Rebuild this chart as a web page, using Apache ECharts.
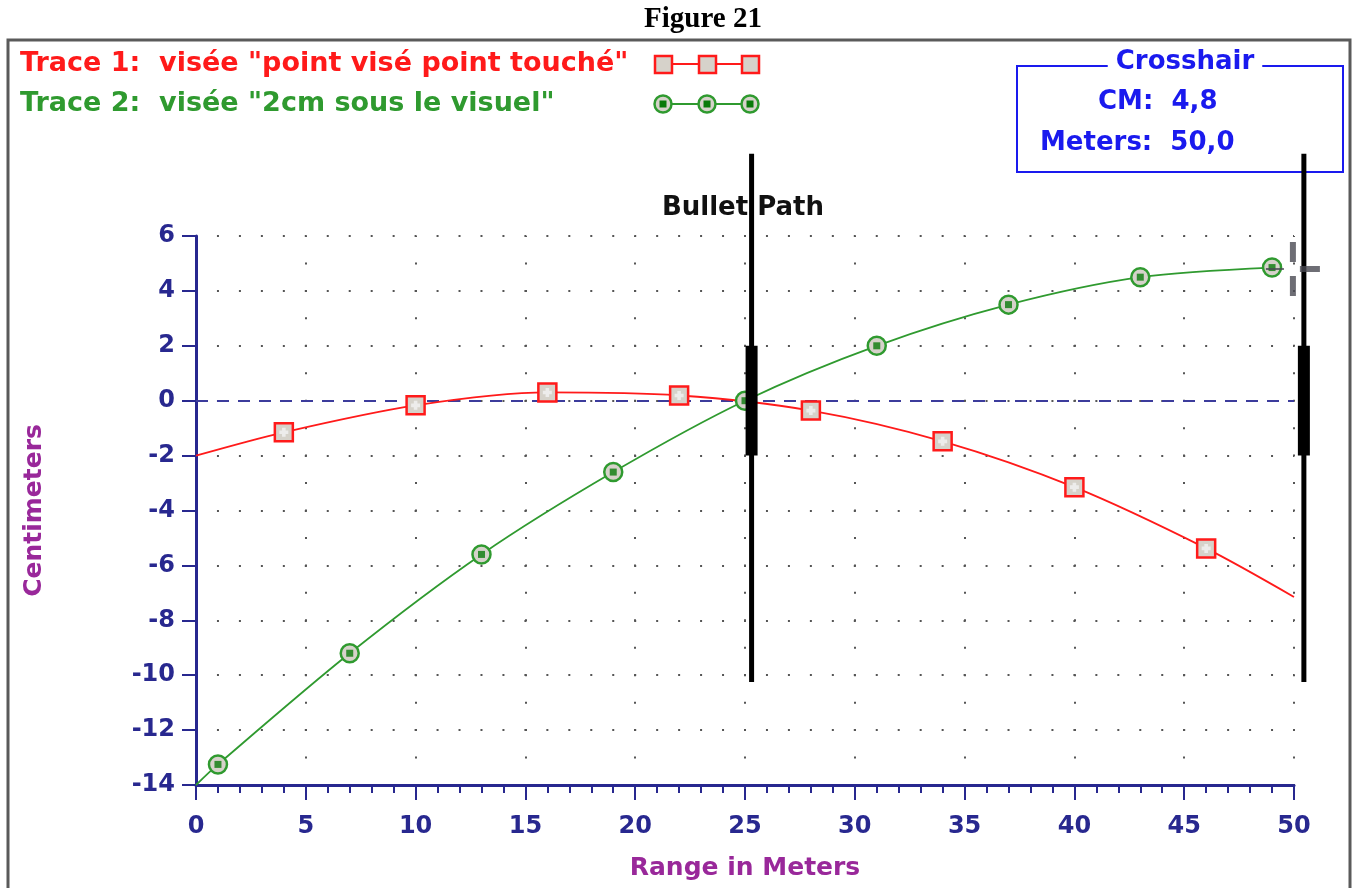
<!DOCTYPE html>
<html>
<head>
<meta charset="utf-8">
<script src="https://cdn.jsdelivr.net/npm/echarts@6/dist/echarts.min.js"></script>
<style>
html,body{margin:0;padding:0;background:#fff;}
#chart{width:1354px;height:888px;}
</style>
</head>
<body>
<div id="chart"></div>
<script>
// ---- data ----
const trace1Range = [0, 4, 10, 16, 22, 28, 34, 40, 46, 50];
const trace1Cm    = [-2.0, -1.15, -0.17, 0.3, 0.19, -0.36, -1.48, -3.15, -5.38, -7.15];
const trace2Range = [0, 1, 7, 13, 19, 25, 31, 37, 43, 49];
const trace2Cm    = [-14.0, -13.25, -9.2, -5.6, -2.6, 0.0, 2.0, 3.5, 4.5, 4.85];
const sightRange  = [25.3, 50.45];
const sightSpan   = [9.0, -10.25];
const sightCore   = [2.0, -2.0];
const cursorPoint = [49.95, 4.8];
const xTicks = [0, 5, 10, 15, 20, 25, 30, 35, 40, 45, 50];
const yTicks = [-14, -12, -10, -8, -6, -4, -2, 0, 2, 4, 6];
const legend1 = 'Trace 1:  visée "point visé point touché"';
const legend2 = 'Trace 2:  visée "2cm sous le visuel"';
const crossCm = '4,8';
const crossMeters = '50,0';

const FONT = 'DejaVu Sans';
const NAVY = '#28288f';
const PURPLE = '#99289a';
const RED = '#ff1a1a';
const GREEN = '#2f9a2f';
const BLUE = '#1a1aee';
const GRAYFILL = '#d6d2ca';

const chart = echarts.init(document.getElementById('chart'), null, {renderer: 'canvas'});

function endsNone(xs, ys, first, last) {
  return xs.map((x, i) => {
    const item = {value: [x, ys[i]]};
    if ((first && i === 0) || (last && i === xs.length - 1)) item.symbol = 'none';
    return item;
  });
}
const t1Marked = trace1Range.slice(1, -1).map((x, i) => [x, trace1Cm[i + 1]]);
const t2Marked = trace2Range.slice(1).map((x, i) => [x, trace2Cm[i + 1]]);

const gridTop = 236, gridLeft = 196, gridW = 1098, gridH = 549;

const option = {
  animation: false,
  backgroundColor: '#fff',
  grid: {left: gridLeft, top: gridTop, width: gridW, height: gridH, containLabel: false},
  xAxis: {
    type: 'value', min: xTicks[0], max: xTicks[xTicks.length - 1], interval: 5,
    name: 'Range in Meters', nameLocation: 'middle', nameGap: 71,
    nameTextStyle: {color: PURPLE, fontFamily: FONT, fontWeight: 'bold', fontSize: 25},
    axisLine: {show: true, onZero: false, lineStyle: {color: NAVY, width: 3}},
    axisTick: {show: true, length: 15, lineStyle: {color: NAVY, width: 2}},
    minorTick: {show: true, splitNumber: 5, length: 8, lineStyle: {color: NAVY, width: 2}},
    axisLabel: {color: NAVY, fontFamily: FONT, fontWeight: 'bold', fontSize: 24, margin: 30},
    splitLine: {show: true, lineStyle: {color: '#555', width: 2, type: [2, gridH / 20 - 2], dashOffset: 1}},
    minorSplitLine: {show: false}
  },
  yAxis: {
    type: 'value', min: yTicks[0], max: yTicks[yTicks.length - 1], interval: 2,
    name: 'Centimeters', nameLocation: 'middle', nameGap: 149,
    nameTextStyle: {color: PURPLE, fontFamily: FONT, fontWeight: 'bold', fontSize: 25},
    axisLine: {show: true, onZero: false, lineStyle: {color: NAVY, width: 3}},
    axisTick: {show: true, length: 14, lineStyle: {color: NAVY, width: 2}},
    axisLabel: {color: NAVY, fontFamily: FONT, fontWeight: 'bold', fontSize: 24, margin: 21},
    splitLine: {show: true, lineStyle: {color: '#555', width: 2, type: [2, gridW / 50 - 2], dashOffset: 1}}
  },
  series: [
    {
      name: 'Trace 1', type: 'line', smooth: 0.3, z: 3,
      data: endsNone(trace1Range, trace1Cm, true, true),
      symbol: 'rect', symbolSize: 18,
      lineStyle: {color: RED, width: 1.8},
      itemStyle: {color: GRAYFILL, borderColor: RED, borderWidth: 2.5},
      markLine: {
        silent: true, symbol: 'none', label: {show: false}, z: 2,
        lineStyle: {color: '#3c3c9c', width: 2, type: [12, 9]},
        data: [{yAxis: 0}]
      }
    },
    {
      name: 'Trace 1 pattern', type: 'scatter', z: 4, silent: true,
      data: t1Marked,
      symbol: 'path://M3,0 L7,0 L7,3 L10,3 L10,7 L7,7 L7,10 L3,10 L3,7 L0,7 L0,3 L3,3 Z',
      symbolSize: 9, itemStyle: {color: '#f2f2f2'}
    },
    {
      name: 'Trace 2', type: 'line', smooth: 0.3, z: 3,
      data: endsNone(trace2Range, trace2Cm, true, false),
      symbol: 'circle', symbolSize: 18,
      lineStyle: {color: GREEN, width: 1.8},
      itemStyle: {color: GRAYFILL, borderColor: GREEN, borderWidth: 2.5}
    },
    {
      name: 'Trace 2 core', type: 'scatter', z: 4, silent: true,
      data: t2Marked, symbol: 'rect', symbolSize: 7,
      itemStyle: {color: '#0a7a0a'}
    },
    {
      name: 'Sight', type: 'custom', z: 6, clip: false, silent: true,
      data: sightRange.map(r => [r, sightSpan[0], sightSpan[1], sightCore[0], sightCore[1]]),
      encode: {x: 0, y: 1},
      renderItem: function (params, api) {
        const x = api.value(0);
        const p1 = api.coord([x, api.value(1)]);
        const p2 = api.coord([x, api.value(2)]);
        const c1 = api.coord([x, api.value(3)]);
        const c2 = api.coord([x, api.value(4)]);
        return {type: 'group', children: [
          {type: 'rect', shape: {x: p1[0] - 2.5, y: p1[1], width: 5, height: p2[1] - p1[1]}, style: {fill: '#000'}},
          {type: 'rect', shape: {x: c1[0] - 6, y: c1[1], width: 12, height: c2[1] - c1[1]}, style: {fill: '#000'}}
        ]};
      }
    },
    {
      name: 'Cursor', type: 'scatter', z: 7, silent: true,
      data: [cursorPoint],
      symbol: 'path://M-3,-27 L3,-27 L3,-7 L-3,-7 Z M-3,7 L3,7 L3,27 L-3,27 Z M7,-3 L27,-3 L27,3 L7,3 Z M-27,-1 L-9,-1 L-9,1 L-27,1 Z',
      symbolSize: 54, symbolKeepAspect: true,
      itemStyle: {color: '#4a4a52'}
    }
  ],
  graphic: [
    {type: 'rect', z: 0, shape: {x: 8, y: 40, width: 1342, height: 870},
     style: {fill: 'none', stroke: '#5a5a5a', lineWidth: 3}},
    {type: 'text', x: 703, y: 20, style: {text: 'Figure 21', font: 'bold 29px "Liberation Serif"', fill: '#000', textAlign: 'center', textVerticalAlign: 'middle'}},
    {type: 'text', x: 743, y: 208, style: {text: 'Bullet Path', font: 'bold 26px "DejaVu Sans"', fill: '#111', textAlign: 'center', textVerticalAlign: 'middle'}},
    {type: 'text', x: 20, y: 64, style: {text: legend1, font: 'bold 27px "DejaVu Sans"', fill: RED, textAlign: 'left', textVerticalAlign: 'middle'}},
    {type: 'text', x: 20, y: 104, style: {text: legend2, font: 'bold 27px "DejaVu Sans"', fill: GREEN, textAlign: 'left', textVerticalAlign: 'middle'}},
    {type: 'line', shape: {x1: 663, y1: 64, x2: 750, y2: 64}, style: {stroke: RED, lineWidth: 1.8}},
    {type: 'rect', shape: {x: 655, y: 56, width: 17, height: 17}, style: {fill: GRAYFILL, stroke: RED, lineWidth: 2.5}},
    {type: 'rect', shape: {x: 699, y: 56, width: 17, height: 17}, style: {fill: GRAYFILL, stroke: RED, lineWidth: 2.5}},
    {type: 'rect', shape: {x: 742, y: 56, width: 17, height: 17}, style: {fill: GRAYFILL, stroke: RED, lineWidth: 2.5}},
    {type: 'line', shape: {x1: 663, y1: 104, x2: 750, y2: 104}, style: {stroke: GREEN, lineWidth: 1.8}},
    {type: 'circle', shape: {cx: 663, cy: 104, r: 8.5}, style: {fill: GRAYFILL, stroke: GREEN, lineWidth: 2.5}},
    {type: 'circle', shape: {cx: 707, cy: 104, r: 8.5}, style: {fill: GRAYFILL, stroke: GREEN, lineWidth: 2.5}},
    {type: 'circle', shape: {cx: 750, cy: 104, r: 8.5}, style: {fill: GRAYFILL, stroke: GREEN, lineWidth: 2.5}},
    {type: 'rect', shape: {x: 659.5, y: 100.5, width: 7, height: 7}, style: {fill: '#0a7a0a'}},
    {type: 'rect', shape: {x: 703.5, y: 100.5, width: 7, height: 7}, style: {fill: '#0a7a0a'}},
    {type: 'rect', shape: {x: 746.5, y: 100.5, width: 7, height: 7}, style: {fill: '#0a7a0a'}},
    {type: 'rect', shape: {x: 1017, y: 66, width: 326, height: 106}, style: {fill: 'none', stroke: BLUE, lineWidth: 2}},
    {type: 'text', x: 1185, y: 62, z: 10, style: {text: 'Crosshair', font: 'bold 26px "DejaVu Sans"', fill: BLUE, textAlign: 'center', textVerticalAlign: 'middle', backgroundColor: '#fff', padding: [0, 8]}},
    {type: 'text', x: 1098, y: 102, style: {text: 'CM:  ' + crossCm, font: 'bold 26px "DejaVu Sans"', fill: BLUE, textAlign: 'left', textVerticalAlign: 'middle'}},
    {type: 'text', x: 1040, y: 143, style: {text: 'Meters:  ' + crossMeters, font: 'bold 26px "DejaVu Sans"', fill: BLUE, textAlign: 'left', textVerticalAlign: 'middle'}}
  ]
};
chart.setOption(option);
</script>
</body>
</html>
